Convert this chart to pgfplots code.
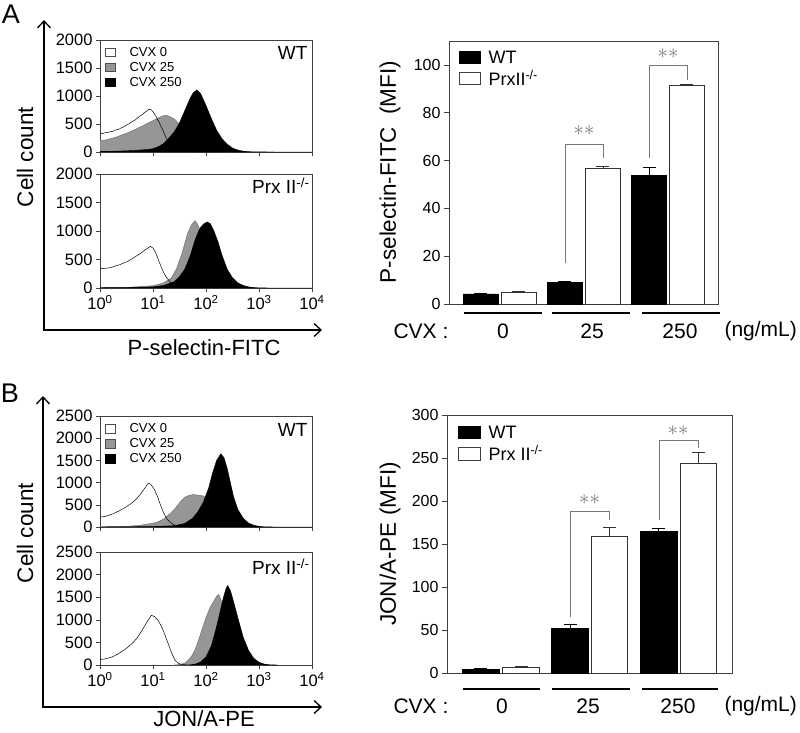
\documentclass[border=0pt]{standalone}
\usepackage{pgfplots}
\pgfplotsset{compat=1.18}
\usetikzlibrary{arrows.meta}
\usepackage{fontspec}
\setmainfont{Liberation Sans}
\newcommand{\fs}[1]{\fontsize{#1}{#1}\selectfont}
\definecolor{hgray}{RGB}{150,150,150}
\definecolor{bgray}{RGB}{120,120,120}
\pgfplotsset{
  histo/.style={scale only axis, width=212pt, xmin=0, xmax=4, ymin=0,
    axis line style={line width=0.6pt, black!75},
    xtick={0,1,2,3,4}, xtick pos=left, ytick pos=left, tick align=outside,
    major tick length=4pt, tick style={black!75, line width=0.6pt},
    ticklabel style={font=\fs{16.5}},
    /pgf/number format/assume math mode=true,
    /pgf/number format/1000 sep={},
    xticklabels={}, clip=true},
  barax/.style={scale only axis, ymin=0,
    axis line style={line width=0.7pt, black!75},
    xtick=\empty, ytick pos=left, tick align=outside,
    major tick length=5pt, tick style={black!75, line width=0.7pt},
    yticklabel style={font=\fs{16}},
    /pgf/number format/assume math mode=true,
    clip=false},
  blk/.style={ybar, bar width=0.415, bar shift=0pt, fill=black, draw=black, line width=0.6pt,
    error bars/.cd, y dir=plus, y explicit,
    error bar style={line width=0.8pt, black},
    error mark options={rotate=90, mark size=6.5pt, line width=0.8pt, black}},
  wht/.style={ybar, bar width=0.415, bar shift=0pt, fill=white, draw=black!80, line width=0.8pt,
    error bars/.cd, y dir=plus, y explicit,
    error bar style={line width=0.8pt, black!80},
    error mark options={rotate=90, mark size=6.5pt, line width=0.8pt, black!80}},
  gfill/.style={fill=hgray, draw=black!60, line width=0.4pt},
  bfill/.style={fill=black, draw=black, line width=0.4pt},
  c0/.style={draw=black, line width=0.5pt, fill=none},
}
\begin{document}
\begin{tikzpicture}
\useasboundingbox (0,0) rectangle (800pt,-732pt);

% ===================== Panel A histograms =====================
\node[font=\fs{27}] at (11pt,-14pt) {A};
\draw[line width=1.3pt, {Straight Barb[length=7pt,width=13pt]}-{Straight Barb[length=7pt,width=13pt]}] (44pt,-20pt) -- (44pt,-330pt) -- (322pt,-330pt);
\node[rotate=90, font=\fs{22.5}] at (25pt,-157pt) {Cell count};
\node[font=\fs{22}] at (204pt,-348pt) {P-selectin-FITC};

\begin{axis}[histo, at={(100pt,-152pt)}, anchor=south west, height=112pt,
  ymax=2000, ytick={0,500,1000,1500,2000}]
\addplot[gfill] coordinates {(0,200) (0.1,215) (0.2,240) (0.3,265) (0.4,300) (0.5,335) (0.6,375) (0.7,420) (0.8,465) (0.9,515) (1.0,560) (1.1,610) (1.2,650) (1.25,655) (1.3,640) (1.4,590) (1.5,500) (1.6,380) (1.7,250) (1.8,140) (1.9,70) (2.0,30) (2.2,5) (2.5,0)} \closedcycle;
\addplot[bfill] coordinates {(0,10) (0.3,15) (0.6,25) (0.9,45) (1.0,60) (1.1,95) (1.2,150) (1.3,250) (1.4,360) (1.5,520) (1.6,740) (1.7,960) (1.76,1060) (1.83,1110) (1.9,1040) (2.0,830) (2.1,600) (2.2,390) (2.3,240) (2.4,140) (2.5,70) (2.6,35) (2.7,15) (2.8,6) (3.0,2) (3.3,0) (4,0)} \closedcycle;
\addplot[c0] coordinates {(0,340) (0.05,330) (0.1,345) (0.15,350) (0.2,365) (0.25,372) (0.3,395) (0.35,405) (0.4,430) (0.45,450) (0.5,480) (0.55,505) (0.6,540) (0.65,565) (0.7,600) (0.75,640) (0.8,670) (0.84,705) (0.88,730) (0.91,755) (0.94,765) (0.97,750) (1.0,720) (1.06,630) (1.12,520) (1.18,400) (1.25,250) (1.32,150) (1.4,80) (1.5,35) (1.6,12) (1.8,3) (2.2,0)};
\end{axis}
\node[font=\fs{19}, anchor=east] at (311pt,-53pt) {WT};
\draw[black!70, line width=0.5pt, fill=white] (105pt,-48pt) rectangle (115pt,-56pt);
\draw[black!70, line width=0.5pt, fill=hgray] (105pt,-63pt) rectangle (115pt,-71pt);
\draw[black, line width=0.5pt, fill=black] (105pt,-78pt) rectangle (115pt,-86pt);
\node[font=\fs{13}, anchor=west] at (126pt,-52pt) {CVX 0};
\node[font=\fs{13}, anchor=west] at (126pt,-67pt) {CVX 25};
\node[font=\fs{13}, anchor=west] at (126pt,-82pt) {CVX 250};

\begin{axis}[histo, at={(100pt,-288pt)}, anchor=south west, height=114pt,
  ymax=2000, ytick={0,500,1000,1500,2000},
  xticklabels={10\textsuperscript{0},10\textsuperscript{1},10\textsuperscript{2},10\textsuperscript{3},10\textsuperscript{4}}]
\addplot[gfill] coordinates {(0,5) (0.5,10) (1.0,40) (1.2,90) (1.35,180) (1.45,350) (1.55,620) (1.65,950) (1.72,1100) (1.79,1180) (1.84,1120) (1.9,980) (2.0,700) (2.1,450) (2.2,250) (2.3,120) (2.4,50) (2.6,10) (2.8,0)} \closedcycle;
\addplot[bfill] coordinates {(0,5) (0.5,8) (1.0,20) (1.2,45) (1.4,110) (1.5,200) (1.6,330) (1.7,560) (1.8,860) (1.88,1040) (1.95,1120) (2.02,1160) (2.08,1130) (2.15,1000) (2.23,800) (2.3,580) (2.4,330) (2.5,180) (2.6,90) (2.7,45) (2.8,20) (2.9,8) (3.0,3) (3.2,0) (4,0)} \closedcycle;
\addplot[c0] coordinates {(0,350) (0.05,340) (0.1,345) (0.15,352) (0.2,360) (0.25,372) (0.3,390) (0.35,402) (0.4,420) (0.45,440) (0.5,460) (0.55,482) (0.6,510) (0.65,540) (0.7,570) (0.75,600) (0.8,630) (0.85,668) (0.9,700) (0.95,730) (1.0,700) (1.05,620) (1.1,500) (1.15,380) (1.2,270) (1.25,190) (1.32,110) (1.4,50) (1.5,15) (1.6,5) (1.8,0)};
\end{axis}
\node[font=\fs{19}, anchor=east] at (313pt,-186pt) {Prx II\textsuperscript{-/-}};

% ===================== Panel A bar chart =====================
\begin{axis}[barax, at={(449pt,-304pt)}, anchor=south west, width=269pt, height=263pt,
  xmin=-0.607, xmax=2.595, ymax=110, ytick={0,20,40,60,80,100}]
\addplot[blk] coordinates {(-0.232,4.2) +- (0,0.1) (0.768,9) +- (0,0.6) (1.774,53.8) +- (0,3.2)};
\addplot[wht] coordinates {(0.226,5) +- (0,0.1) (1.226,56.7) +- (0,0.7) (2.22,91.6) +- (0,0.4)};
\draw[bgray, line width=0.8pt] (axis cs:0.774,17) -- (axis cs:0.774,66.7) -- (axis cs:1.226,66.7) -- (axis cs:1.226,61);
\draw[bgray, line width=0.8pt] (axis cs:1.774,61) -- (axis cs:1.774,100) -- (axis cs:2.226,100) -- (axis cs:2.226,93.7);
\node[bgray, font=\fs{22}] at (axis cs:1.0,72.5) {$\ast\ast$};
\node[bgray, font=\fs{22}] at (axis cs:2.0,104.5) {$\ast\ast$};
\end{axis}
\draw[black, line width=0.5pt, fill=black] (459pt,-51pt) rectangle (480pt,-63pt);
\draw[black!75, line width=0.6pt, fill=white] (459pt,-72pt) rectangle (480pt,-84pt);
\node[font=\fs{18}, anchor=west] at (485pt,-57pt) {WT};
\node[font=\fs{18}, anchor=west] at (485pt,-78pt) {PrxII\textsuperscript{-/-}};
\node[rotate=90, font=\fs{22.5}] at (390pt,-172pt) {P-selectin-FITC\ \ (MFI)};
\draw[line width=1.3pt] (464pt,-313pt) -- (542pt,-313pt);
\draw[line width=1.3pt] (552pt,-313pt) -- (630pt,-313pt);
\draw[line width=1.3pt] (642pt,-313pt) -- (720pt,-313pt);
\node[font=\fs{21}, anchor=west] at (390pt,-331pt) {CVX :};
\node[font=\fs{21}] at (503pt,-331pt) {0};
\node[font=\fs{21}] at (592pt,-331pt) {25};
\node[font=\fs{21}] at (680pt,-331pt) {250};
\node[font=\fs{21}, anchor=west] at (721pt,-331pt) {(ng/mL)};

% ===================== Panel B histograms =====================
\node[font=\fs{27}] at (10pt,-393pt) {B};
\draw[line width=1.3pt, {Straight Barb[length=7pt,width=13pt]}-{Straight Barb[length=7pt,width=13pt]}] (43pt,-396pt) -- (43pt,-707pt) -- (322pt,-707pt);
\node[rotate=90, font=\fs{22.5}] at (25pt,-533pt) {Cell count};
\node[font=\fs{22}] at (204pt,-719pt) {JON/A-PE};

\begin{axis}[histo, at={(100pt,-527pt)}, anchor=south west, height=111pt,
  ymax=2500, ytick={0,500,1000,1500,2000,2500}]
\addplot[gfill] coordinates {(0,5) (0.5,15) (0.75,38) (1.0,85) (1.1,120) (1.2,180) (1.32,300) (1.42,420) (1.51,560) (1.6,670) (1.67,710) (1.75,730) (1.85,720) (1.95,700) (2.0,650) (2.1,450) (2.2,250) (2.3,120) (2.45,40) (2.6,10) (2.8,0)} \closedcycle;
\addplot[bfill] coordinates {(0,0) (1.0,10) (1.4,30) (1.6,80) (1.75,200) (1.85,350) (1.95,560) (2.05,880) (2.12,1200) (2.2,1500) (2.28,1650) (2.34,1560) (2.4,1320) (2.46,1000) (2.52,680) (2.6,400) (2.7,200) (2.8,90) (2.9,40) (3.0,15) (3.1,5) (3.3,0) (4,0)} \closedcycle;
\addplot[c0] coordinates {(0,220) (0.05,230) (0.1,240) (0.15,255) (0.2,280) (0.25,300) (0.3,330) (0.35,355) (0.4,390) (0.45,420) (0.5,460) (0.55,500) (0.6,540) (0.65,590) (0.7,650) (0.75,720) (0.8,800) (0.86,900) (0.91,990) (0.96,960) (1.02,860) (1.08,700) (1.14,500) (1.2,320) (1.26,190) (1.32,110) (1.38,60) (1.45,25) (1.55,8) (1.7,2) (2.0,0)};
\end{axis}
\node[font=\fs{19}, anchor=east] at (311pt,-430pt) {WT};
\draw[black!70, line width=0.5pt, fill=white] (105pt,-424pt) rectangle (115pt,-433pt);
\draw[black!70, line width=0.5pt, fill=hgray] (105pt,-439pt) rectangle (115pt,-448pt);
\draw[black, line width=0.5pt, fill=black] (105pt,-454pt) rectangle (115pt,-463pt);
\node[font=\fs{13}, anchor=west] at (126pt,-428pt) {CVX 0};
\node[font=\fs{13}, anchor=west] at (126pt,-443pt) {CVX 25};
\node[font=\fs{13}, anchor=west] at (126pt,-458pt) {CVX 250};

\begin{axis}[histo, at={(100pt,-665pt)}, anchor=south west, height=113pt,
  ymax=2500, ytick={0,500,1000,1500,2000,2500},
  xticklabels={10\textsuperscript{0},10\textsuperscript{1},10\textsuperscript{2},10\textsuperscript{3},10\textsuperscript{4}}]
\addplot[gfill] coordinates {(1.4,0) (1.5,10) (1.6,40) (1.67,110) (1.73,200) (1.79,330) (1.85,520) (1.92,770) (2.0,1050) (2.08,1280) (2.15,1420) (2.2,1520) (2.24,1560) (2.28,1450) (2.35,1200) (2.45,800) (2.55,450) (2.65,200) (2.75,80) (2.9,20) (3.1,0)} \closedcycle;
\addplot[bfill] coordinates {(1.7,0) (1.8,20) (1.9,70) (2.0,180) (2.1,420) (2.2,850) (2.27,1200) (2.33,1500) (2.38,1700) (2.41,1760) (2.46,1650) (2.52,1400) (2.6,1050) (2.7,620) (2.8,330) (2.9,150) (3.0,60) (3.1,20) (3.2,5) (3.35,0)} \closedcycle;
\addplot[c0] coordinates {(0,120) (0.05,130) (0.1,135) (0.15,150) (0.2,170) (0.25,190) (0.3,220) (0.35,250) (0.4,290) (0.45,330) (0.5,370) (0.55,420) (0.6,470) (0.65,530) (0.7,600) (0.75,690) (0.8,780) (0.85,880) (0.9,980) (0.97,1100) (1.03,1070) (1.1,980) (1.17,830) (1.23,650) (1.3,430) (1.36,240) (1.42,100) (1.48,35) (1.55,10) (1.65,2) (1.8,0)};
\end{axis}
\node[font=\fs{19}, anchor=east] at (313pt,-567pt) {Prx II\textsuperscript{-/-}};

% ===================== Panel B bar chart =====================
\begin{axis}[barax, at={(447pt,-673pt)}, anchor=south west, width=285pt, height=258pt,
  xmin=-0.61, xmax=2.61, ymax=300, ytick={0,50,100,150,200,250,300}]
\addplot[blk] coordinates {(-0.226,4.6) +- (0,0.3) (0.78,52) +- (0,4) (1.78,165) +- (0,3.6)};
\addplot[wht] coordinates {(0.226,7) +- (0,0.3) (1.226,159) +- (0,10) (2.23,244) +- (0,12)};
\draw[bgray, line width=0.8pt] (axis cs:0.78,65) -- (axis cs:0.78,188) -- (axis cs:1.22,188) -- (axis cs:1.22,178);
\draw[bgray, line width=0.8pt] (axis cs:1.785,178) -- (axis cs:1.785,270) -- (axis cs:2.226,270) -- (axis cs:2.226,262);
\node[bgray, font=\fs{22}] at (axis cs:1.0,201) {$\ast\ast$};
\node[bgray, font=\fs{22}] at (axis cs:2.0,282) {$\ast\ast$};
\end{axis}
\draw[black, line width=0.5pt, fill=black] (458pt,-426pt) rectangle (480pt,-438pt);
\draw[black!75, line width=0.6pt, fill=white] (458pt,-447pt) rectangle (480pt,-460pt);
\node[font=\fs{18}, anchor=west] at (485pt,-432pt) {WT};
\node[font=\fs{18}, anchor=west] at (485pt,-453pt) {Prx II\textsuperscript{-/-}};
\node[rotate=90, font=\fs{22.5}] at (390pt,-544pt) {JON/A-PE (MFI)};
\draw[line width=1.3pt] (463pt,-689pt) -- (540pt,-689pt);
\draw[line width=1.3pt] (552pt,-689pt) -- (630pt,-689pt);
\draw[line width=1.3pt] (642pt,-689pt) -- (718pt,-689pt);
\node[font=\fs{21}, anchor=west] at (390pt,-706pt) {CVX :};
\node[font=\fs{21}] at (502pt,-706pt) {0};
\node[font=\fs{21}] at (588pt,-706pt) {25};
\node[font=\fs{21}] at (678pt,-706pt) {250};
\node[font=\fs{21}, anchor=west] at (721pt,-706pt) {(ng/mL)};
\end{tikzpicture}
\end{document}
